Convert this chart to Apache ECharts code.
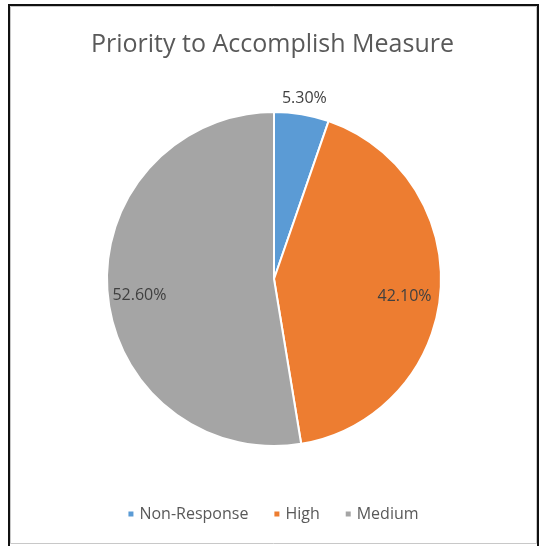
<!DOCTYPE html>
<html>
<head>
<meta charset="utf-8">
<script src="https://cdn.jsdelivr.net/npm/echarts@6/dist/echarts.min.js"></script>
<style>html,body{margin:0;padding:0;background:#fff;}#c{width:545px;height:546px;}</style>
</head>
<body>
<div id="c"></div>
<script>
var titleText = 'Priority to Accomplish Measure';
var categories = ['Non-Response', 'High', 'Medium'];
var values = [5.3, 42.1, 52.6];
var colors = ['#5B9BD5', '#ED7D31', '#A5A5A5'];

var font = '"Open Sans", "Noto Sans", sans-serif';
var data = categories.map(function (c, i) {
  return { name: c, value: values[i], itemStyle: { color: colors[i] } };
});
function fmt(p) { return p.value.toFixed(2) + '%'; }

var chart = echarts.init(document.getElementById('c'), null, { renderer: 'canvas' });
chart.setOption({
  backgroundColor: '#fff',
  animation: false,
  title: {
    text: titleText, left: 'center', top: 27,
    textStyle: { fontFamily: font, fontSize: 25, fontWeight: 'normal', color: '#595959' }
  },
  legend: {
    data: categories, bottom: 19, left: 'center',
    icon: 'rect', itemWidth: 7, itemHeight: 7, itemGap: 24,
    textStyle: { fontFamily: font, fontSize: 16, color: '#595959' }
  },
  graphic: [
    { type: 'rect', shape: { x: 9, y: 5, width: 529, height: 560 }, style: { fill: 'none', stroke: '#111', lineWidth: 2 }, silent: true },
    { type: 'rect', shape: { x: 10.5, y: 6.5, width: 526, height: 537 }, style: { fill: 'none', stroke: '#c8c8c8', lineWidth: 1 }, silent: true }
  ],
  series: [
    {
      type: 'pie', center: [274, 279], radius: [0, 167], startAngle: 90, clockwise: true,
      data: data, label: { show: false }, labelLine: { show: false },
      itemStyle: { borderColor: '#fff', borderWidth: 2 }, silent: true
    },
    {
      type: 'pie', center: [272, 285], radius: [112, 148], startAngle: 90, clockwise: true,
      data: data.map(function (d, i) {
        return { name: d.name, value: d.value, itemStyle: { color: 'rgba(0,0,0,0)' }, label: { show: i > 0 } };
      }),
      label: { position: 'inside', formatter: fmt, fontFamily: font, fontSize: 16, color: '#404040' },
      labelLine: { show: false }, silent: true, legendHoverLink: false
    },
    {
      type: 'pie', center: [274, 279], radius: [168, 192], startAngle: 90, clockwise: true,
      data: data.map(function (d, i) {
        return { name: d.name, value: d.value, itemStyle: { color: 'rgba(0,0,0,0)' }, label: { show: i === 0 } };
      }),
      label: { position: 'inside', formatter: fmt, fontFamily: font, fontSize: 16, color: '#404040' },
      labelLine: { show: false }, silent: true, legendHoverLink: false
    }
  ]
});
</script>
</body>
</html>
